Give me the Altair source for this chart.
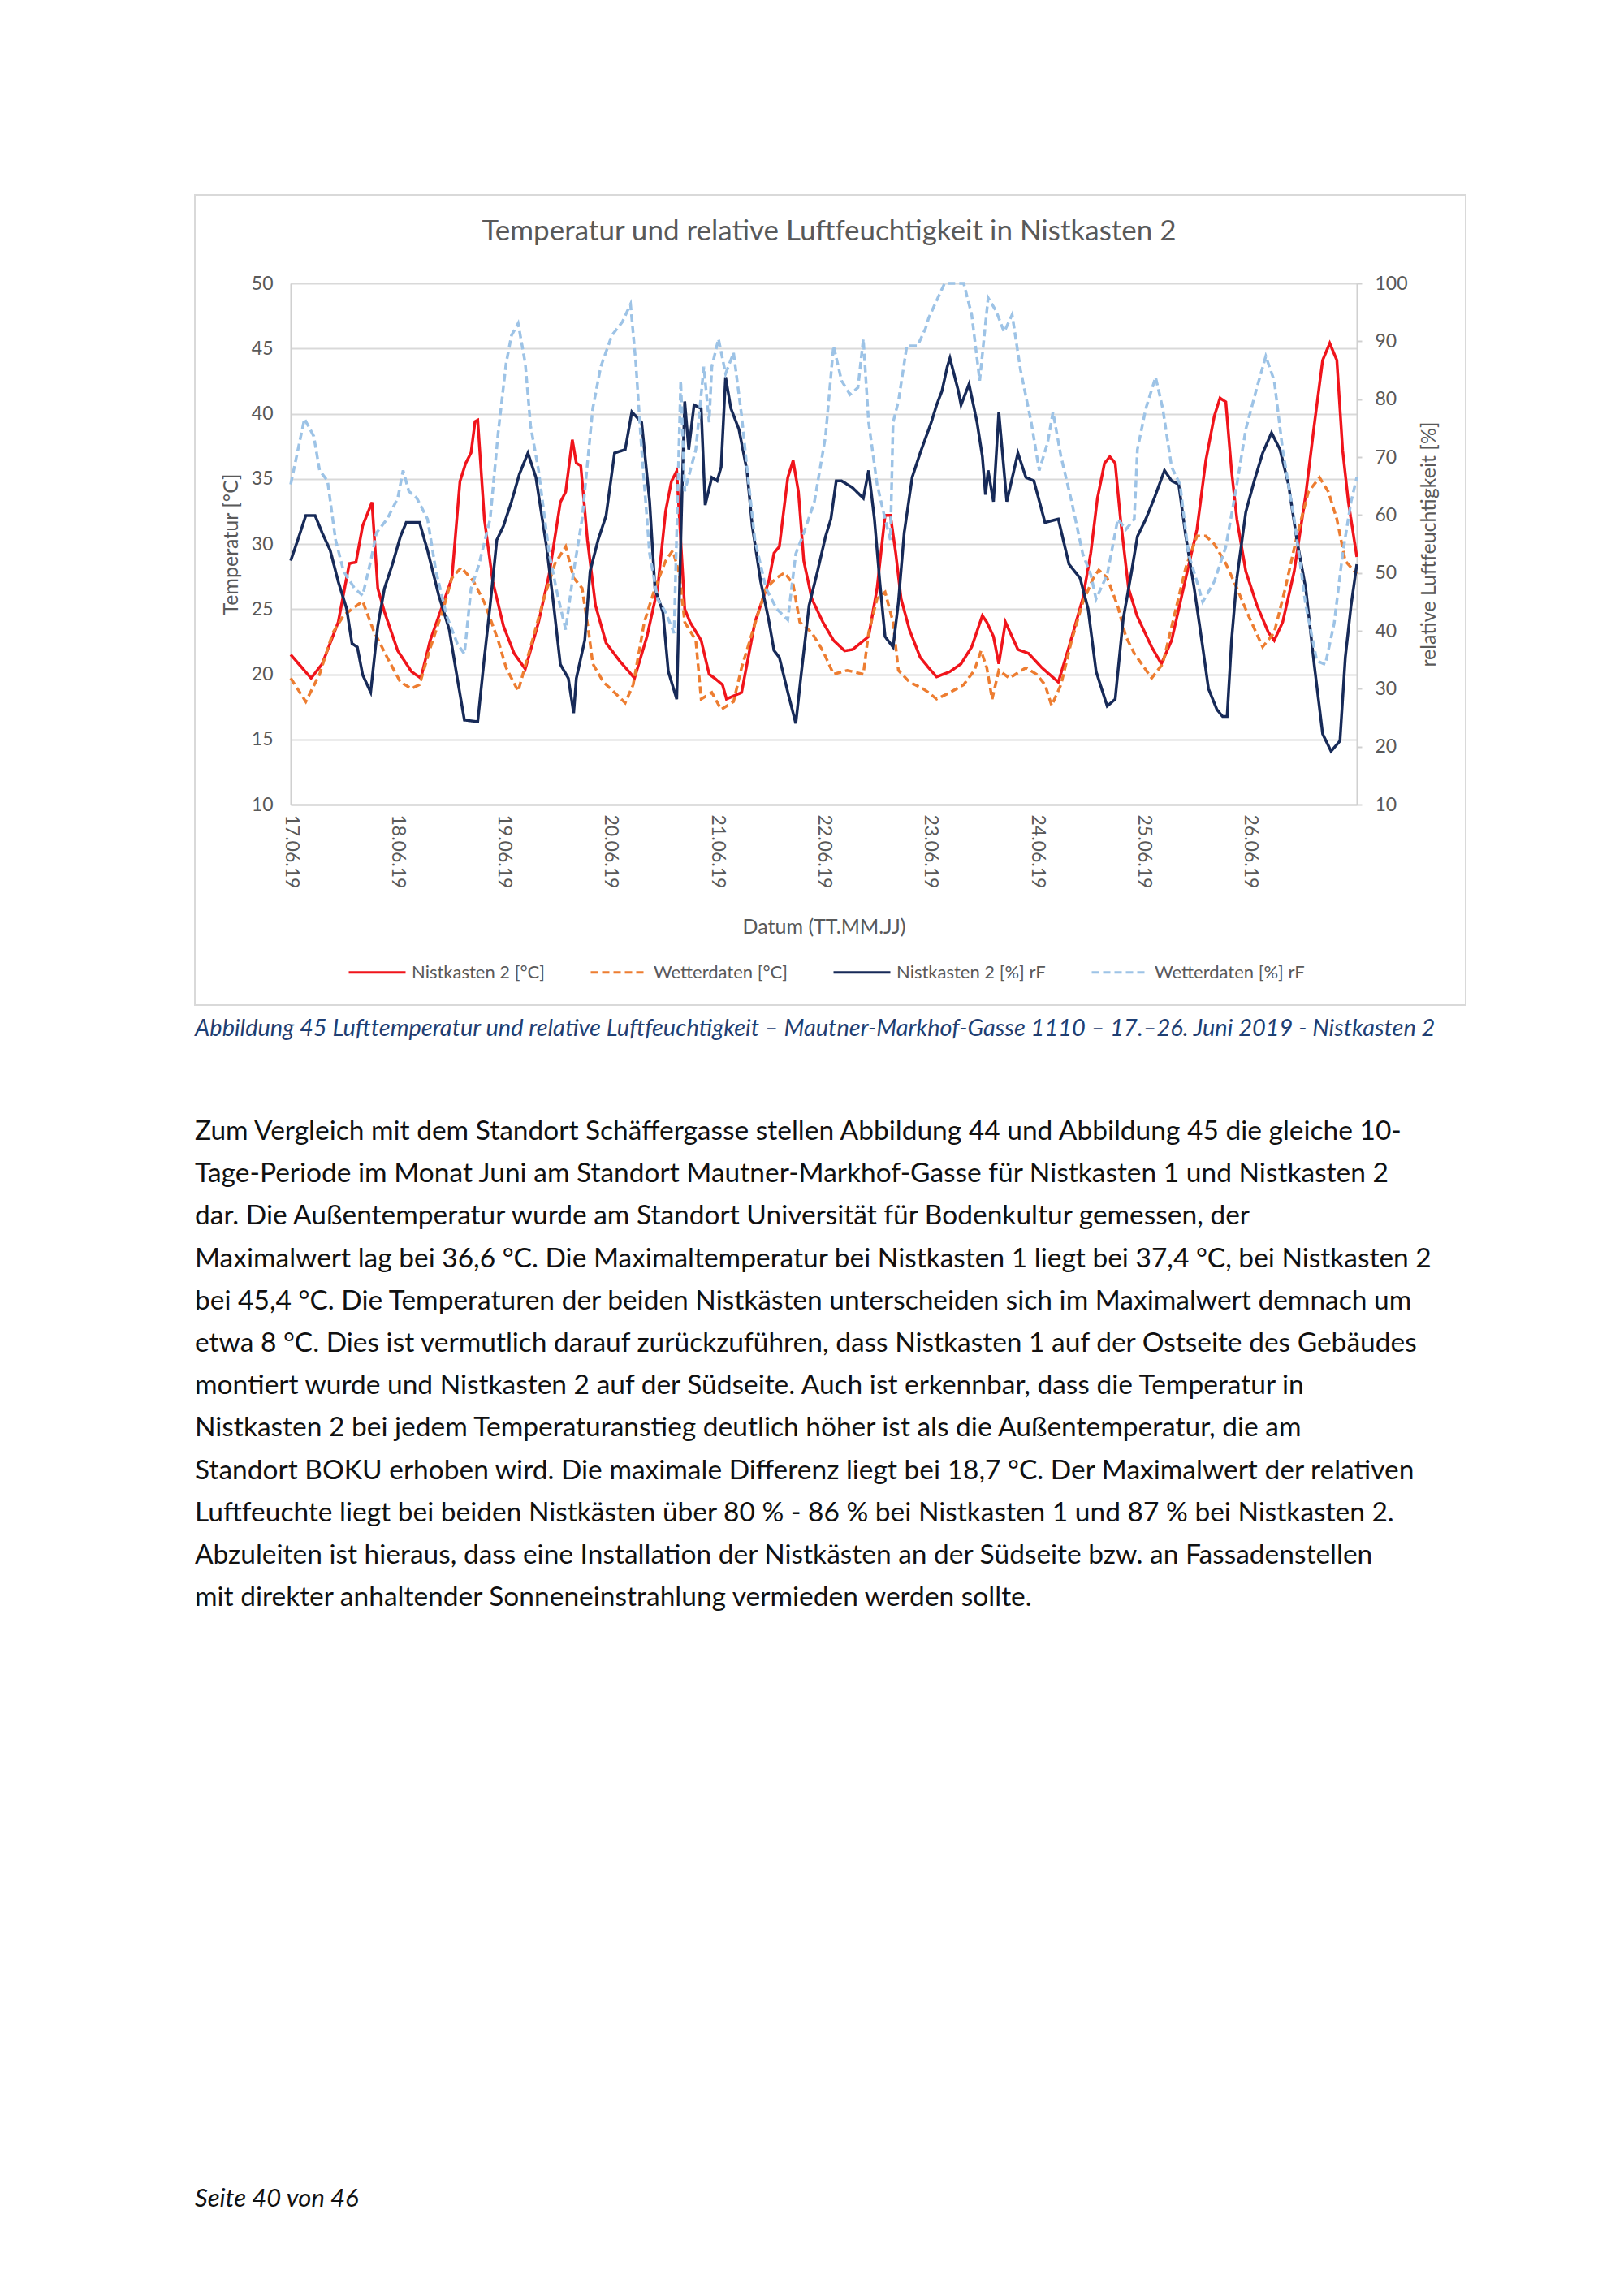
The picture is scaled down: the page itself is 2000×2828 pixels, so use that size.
import altair as alt
import pandas as pd

# ---------------- data ----------------
# hours since 17.06.2019 00:00
red_h = [0, 4.6, 7.1, 10.7, 13.2, 14.7, 16.2, 18.3, 19.6, 21.1, 24.1, 27.2, 29.3, 31.4, 33.9, 36.3, 38.1, 39.4, 40.6, 41.5,
         42.1, 43.6, 45.5, 47.9, 50.3, 52.8, 55.8, 58.2, 60.7, 61.9, 63.4, 64.3, 65.3, 66.8, 68.6, 71.0, 74.1, 77.4, 80.2,
         82.6, 84.4, 85.7, 86.9, 88.7, 89.9, 92.4, 94.2, 95.4, 97.2, 98.1, 101.5, 104.5, 107.6, 108.8, 110.0, 111.9, 113.1,
         114.3, 115.5, 117.3, 119.8, 122.2, 124.7, 126.5, 130.1, 132.0, 133.8, 135.0, 136.2, 137.4, 139.3, 141.7, 143.6,
         145.4, 148.4, 150.9, 153.3, 155.7, 156.7, 158.2, 159.4, 160.9, 163.7, 166.1, 169.1, 172.8, 175.2, 178.3, 180.1,
         181.6, 183.2, 184.4, 185.6, 186.8, 188.6, 190.5, 193.8, 196.0, 198.3, 201.5, 204.0, 206.0, 207.9, 209.2, 210.5,
         211.8, 213.0, 215.0, 217.5, 220.1, 221.4, 223.3, 225.9, 228.5, 230.4, 232.3, 233.9, 235.5, 236.8, 238.1, 240]
red_v = [21.5, 19.7, 20.8, 24.0, 28.5, 28.6, 31.4, 33.2, 26.6, 24.8, 21.8, 20.2, 19.7, 22.6, 25.0, 27.4, 34.8, 36.2, 37.0, 39.4,
         39.5, 31.9, 27.1, 23.7, 21.6, 20.4, 24.0, 27.7, 33.2, 34.0, 38.0, 36.2, 36.0, 30.3, 25.3, 22.4, 21.0, 19.7, 22.9,
         26.6, 32.5, 34.8, 35.6, 25.0, 24.0, 22.6, 20.0, 19.7, 19.2, 18.1, 18.6, 24.0, 27.1, 29.3, 29.8, 35.1, 36.4,
         34.0, 28.7, 25.8, 24.0, 22.6, 21.8, 21.9, 22.9, 26.6, 32.2, 32.2, 29.3, 25.8, 23.4, 21.3, 20.5,
         19.8, 20.2, 20.8, 22.1, 24.5, 24.0, 22.9, 20.8, 24.0, 21.9, 21.6, 20.5, 19.4, 22.1, 25.8, 29.3,
         33.5, 36.2, 36.7, 36.2, 31.9, 26.6, 24.5, 22.1, 20.8, 22.6, 27.4, 31.1, 36.4, 39.8, 41.2, 40.9,
         35.6, 31.9, 27.9, 25.3, 23.2, 22.6, 24.0, 27.9, 33.8, 39.1, 44.1, 45.4, 44.1, 37.2, 33.2, 29.0]

orange_h = [0, 3.4, 6.5, 9.5, 11.9, 13.8, 16.2, 18.6, 21.7, 24.7, 27.2, 29.0, 31.4, 34.5, 36.3, 38.4, 41.2, 43.6, 46.7, 48.5,
            51.2, 54.0, 57.0, 59.5, 61.9, 63.7, 65.6, 67.1, 68.0, 70.4, 72.9, 75.3, 77.1, 79.6, 82.0, 84.4, 86.0, 87.5, 88.7,
            91.2, 92.4, 94.8, 96.9, 99.7, 101.5, 103.9, 107.0, 109.4, 111.2, 113.1, 114.6, 117.3, 119.8, 122.2, 125.3, 128.9,
            130.1, 132.0, 133.8, 135.6, 136.8, 139.3, 142.3, 143.6, 145.4, 148.4, 151.5, 153.9, 155.4, 156.7, 157.9, 159.4,
            161.8, 165.5, 167.9, 169.8, 171.3, 173.4, 175.8, 178.3, 180.7, 181.9, 183.8, 186.2, 188.0, 189.9, 193.8, 196.3,
            198.9, 201.5, 204.0, 206.0, 207.9, 210.5, 213.0, 215.6, 218.8, 221.4, 223.9, 226.5, 229.1, 231.6, 233.6, 235.5,
            237.4, 240]
orange_v = [19.7, 17.9, 20.0, 23.2, 24.5, 25.0, 25.6, 23.4, 21.3, 19.4, 18.9, 19.2, 22.0, 25.2, 27.4, 28.2, 27.1, 25.5, 22.6, 20.5,
            18.7, 22.1, 25.8, 28.5, 29.8, 27.4, 26.6, 23.2, 20.8, 19.4, 18.6, 17.8, 19.2, 24.0, 26.6, 28.7, 29.5, 27.7, 24.0,
            22.6, 18.1, 18.6, 17.3, 17.9, 20.5, 23.2, 26.6, 27.4, 27.8, 26.9, 24.0, 23.2, 21.8, 20.0, 20.3, 20.0,
            23.2, 25.8, 26.3, 24.0, 20.3, 19.4, 18.9, 18.6, 18.1, 18.6, 19.2, 20.3, 21.8, 20.5, 18.1, 20.3,
            19.7, 20.5, 20.0, 19.2, 17.6, 19.2, 22.6, 25.5, 27.4, 28.0, 27.4, 25.2, 22.9, 21.6, 19.7, 20.8,
            24.5, 28.2, 30.6, 30.6, 30.0, 28.5, 26.6, 24.5, 22.1, 23.2, 26.6, 30.6, 34.0, 35.1, 34.0, 31.9,
            28.7, 27.7]

navy_h = [0, 1.6, 3.4, 5.5, 7.1, 8.9, 10.7, 12.6, 13.8, 15.0, 16.2, 18.0, 19.6, 21.1, 22.9, 24.7, 26.0, 29.0, 30.8, 33.3,
          35.7, 37.5, 39.1, 42.1, 43.6, 44.9, 46.4, 47.9, 49.7, 51.5, 53.4, 55.2, 57.6, 59.2, 60.7, 62.5, 63.7, 64.3, 66.2,
          67.4, 69.2, 71.0, 72.9, 75.3, 76.8, 79.0, 80.8, 82.0, 83.8, 85.0, 86.9, 88.1, 88.7, 89.6, 90.8, 92.4, 93.3, 94.8,
          96.0, 96.9, 97.9, 99.1, 100.9, 102.7, 103.9, 105.8, 107.6, 108.8, 110.0, 111.9, 113.7, 114.9, 116.7, 118.6, 120.4,
          121.6, 122.8, 124.0, 126.5, 128.9, 130.1, 131.4, 132.6, 133.8, 135.6, 136.8, 138.1, 139.9, 141.7, 144.2, 145.4,
          146.6, 147.8, 148.4, 150.3, 150.9, 152.7, 154.5, 155.7, 156.4, 157.0, 158.2, 159.4, 161.2, 163.7, 165.5, 167.3,
          169.8, 172.8, 175.2, 177.7, 179.5, 181.3, 183.8, 185.6, 187.4, 189.3, 190.6, 192.5, 194.4, 196.7, 198.3, 199.9,
          201.5, 203.4, 205.3, 206.6, 208.5, 209.8, 210.8, 211.8, 213.0, 215.0, 216.9, 218.8, 220.8, 222.7, 224.6, 226.5,
          228.5, 230.4, 232.3, 234.2, 236.2, 237.4, 238.7, 240]
navy_v = [52.1, 55.7, 59.9, 59.9, 56.9, 53.9, 48.5, 43.8, 37.8, 37.2, 32.4, 29.4, 40.8, 47.3, 51.5, 56.3, 58.7, 58.7, 53.9, 46.2,
          40.2, 31.8, 24.6, 24.3, 35.4, 44.4, 55.7, 58.1, 62.3, 67.1, 70.7, 66.5, 54.5, 44.4, 34.2, 31.8, 25.8, 31.8, 38.4,
          50.3, 55.7, 59.9, 70.7, 71.3, 77.8, 76.0, 62.3, 47.3, 43.2, 33.0, 28.2, 64.1, 79.6, 71.3, 79.0, 78.4, 61.7, 66.5,
          65.9, 68.3, 83.8, 78.4, 74.8, 67.7, 58.1, 48.5, 41.9, 36.6, 35.4, 29.4, 24.0, 32.4, 44.4, 50.3, 56.3,
          59.3, 65.9, 65.9, 64.7, 62.9, 67.7, 59.3, 48.5, 39.0, 37.2, 44.9, 56.9, 66.5, 70.7, 76.0, 79.0,
          81.4, 85.6, 87.1, 81.4, 79.0, 82.6, 76.0, 70.1, 63.5, 67.7, 62.3, 77.8, 62.3, 70.7, 66.5, 65.9,
          58.7, 59.3, 51.5, 49.1, 43.8, 33.0, 27.0, 28.2, 42.0, 50.3, 56.3, 59.3, 62.9, 67.7, 65.9, 65.3,
          56.3, 47.3, 37.2, 30.0, 26.4, 25.2, 25.2, 38.4, 49.1, 60.5, 65.9, 70.7, 74.2, 71.3, 65.3, 55.7,
          47.3, 34.2, 22.2, 19.2, 21.0, 35.4, 44.4, 51.5]

lblue_h = [0, 3.1, 5.2, 6.5, 8.3, 10.1, 11.9, 14.4, 16.2, 18.0, 19.3, 21.7, 24.1, 25.3, 26.6, 28.4, 30.8, 32.7, 35.1, 37.5,
           39.1, 40.6, 42.4, 44.9, 46.7, 48.5, 49.7, 51.2, 52.8, 54.0, 55.8, 58.2, 60.1, 61.9, 63.7, 65.6, 67.1, 68.0, 69.8,
           72.3, 74.7, 76.5, 77.7, 79.0, 80.8, 82.6, 84.4, 86.3, 87.8, 88.7, 91.2, 93.0, 94.2, 94.8, 96.3, 97.9, 99.7, 101.5,
           102.7, 104.5, 107.0, 109.4, 111.9, 113.7, 115.5, 117.9, 120.4, 122.2, 124.0, 125.9, 127.7, 128.9, 130.1, 132.0,
           133.8, 135.0, 135.6, 136.8, 138.7, 141.1, 142.9, 143.6, 147.2, 151.5, 153.3, 155.1, 157.0, 158.8, 160.6, 162.4,
           164.3, 166.7, 168.5, 170.4, 171.6, 173.4, 175.8, 178.3, 180.1, 181.3, 183.8, 186.2, 188.0, 189.9, 190.6, 192.5,
           194.7, 196.3, 198.3, 200.2, 202.1, 204.0, 205.3, 207.9, 210.5, 213.0, 215.0, 217.5, 219.5, 221.4, 223.3, 225.9,
           228.5, 231.0, 232.9, 234.9, 236.8, 238.7, 240]
lblue_v = [65.3, 76.6, 73.6, 67.7, 65.9, 55.7, 50.3, 47.3, 46.1, 52.0, 56.9, 59.3, 62.9, 67.7, 64.1, 62.9, 59.3, 50.3, 42.6, 37.8,
           36.0, 47.3, 51.5, 59.3, 74.2, 86.2, 91.0, 93.1, 86.2, 75.4, 67.7, 53.3, 46.1, 40.2, 50.3, 59.3, 71.3, 78.4, 85.6,
           91.0, 93.4, 96.4, 86.2, 71.3, 53.3, 45.5, 43.2, 39.6, 83.2, 64.1, 71.3, 85.6, 76.0, 85.6, 90.4, 84.4, 88.0, 77.2,
           68.3, 55.7, 47.3, 43.8, 41.9, 53.3, 56.9, 62.3, 73.6, 89.2, 83.2, 80.8, 82.0, 90.4, 76.0, 65.3,
           59.3, 55.7, 76.0, 79.6, 89.2, 89.2, 92.2, 94.0, 100, 100, 94.6, 83.2, 97.5, 95.2, 91.6, 94.6,
           85.0, 76.0, 67.7, 72.5, 77.8, 70.1, 62.3, 53.3, 49.7, 45.5, 49.7, 59.3, 57.5, 59.3, 71.3, 78.4,
           83.8, 78.4, 68.3, 65.3, 53.3, 48.5, 45.0, 48.5, 54.5, 65.3, 74.8, 82.0, 87.4, 83.2, 71.3, 59.3,
           44.4, 34.8, 34.2, 41.3, 53.3, 62.3, 66.5]

series_names = ["Nistkasten 2 [°C]", "Wetterdaten [°C]", "Nistkasten 2 [%] rF", "Wetterdaten [%] rF"]
series_colors = ["#F0141B", "#ED7D31", "#172A58", "#9DC3E6"]
series_dashes = [[1, 0], [9, 5], [1, 0], [9, 5]]
tick_days = list(range(17, 27))

chart_title = "Temperatur und relative Luftfeuchtigkeit in Nistkasten 2"
caption = ("Abbildung 45 Lufttemperatur und relative Luftfeuchtigkeit \u2013 Mautner-Markhof-Gasse 1110 \u2013 "
           "17.\u201326. Juni 2019 - Nistkasten 2")
paragraph = [
    "Zum Vergleich mit dem Standort Schäffergasse stellen Abbildung 44 und Abbildung 45 die gleiche 10-",
    "Tage-Periode im Monat Juni am Standort Mautner-Markhof-Gasse für Nistkasten 1 und Nistkasten 2",
    "dar. Die Außentemperatur wurde am Standort Universität für Bodenkultur gemessen, der",
    "Maximalwert lag bei 36,6 °C. Die Maximaltemperatur bei Nistkasten 1 liegt bei 37,4 °C, bei Nistkasten 2",
    "bei 45,4 °C. Die Temperaturen der beiden Nistkästen unterscheiden sich im Maximalwert demnach um",
    "etwa 8 °C. Dies ist vermutlich darauf zurückzuführen, dass Nistkasten 1 auf der Ostseite des Gebäudes",
    "montiert wurde und Nistkasten 2 auf der Südseite. Auch ist erkennbar, dass die Temperatur in",
    "Nistkasten 2 bei jedem Temperaturanstieg deutlich höher ist als die Außentemperatur, die am",
    "Standort BOKU erhoben wird. Die maximale Differenz liegt bei 18,7 °C. Der Maximalwert der relativen",
    "Luftfeuchte liegt bei beiden Nistkästen über 80 % - 86 % bei Nistkasten 1 und 87 % bei Nistkasten 2.",
    "Abzuleiten ist hieraus, dass eine Installation der Nistkästen an der Südseite bzw. an Fassadenstellen",
    "mit direkter anhaltender Sonneneinstrahlung vermieden werden sollte.",
]
footer = "Seite 40 von 46"

# ---------------- build tables ----------------
START = pd.Timestamp("2019-06-17 00:00:00")


def frame(hours, values, name):
    t = [(START + pd.Timedelta(hours=h)).strftime("%Y-%m-%dT%H:%M:%S") for h in hours]
    return pd.DataFrame({"t": t, "value": values, "series": name})


temp_df = pd.concat([frame(red_h, red_v, series_names[0]), frame(orange_h, orange_v, series_names[1])])
hum_df = pd.concat([frame(navy_h, navy_v, series_names[2]), frame(lblue_h, lblue_v, series_names[3])])

FONT = "Lato"
GREY = "#595959"
W, H = 1313, 642

legend = alt.Legend(title=None, orient="none", legendX=70, legendY=812, direction="horizontal", columns=4,
                    symbolType="stroke", symbolSize=4900, symbolStrokeWidth=3, labelFontSize=22, labelLimit=0,
                    labelColor=GREY, labelFont=FONT, columnPadding=50, labelOffset=6)
color = alt.Color("series:N", scale=alt.Scale(domain=series_names, range=series_colors), legend=legend)
dash = alt.StrokeDash("series:N", scale=alt.Scale(domain=series_names, range=series_dashes), legend=legend)

x_enc = alt.X(
    "t:T", title="Datum (TT.MM.JJ)",
    scale=alt.Scale(domain=[alt.DateTime(year=2019, month=6, date=17), alt.DateTime(year=2019, month=6, date=27)]),
    axis=alt.Axis(values=[alt.DateTime(year=2019, month=6, date=d) for d in tick_days], format="%d.%m.%y",
                  labelAngle=90, ticks=False, grid=False, domainColor="#D0D0D0", domainWidth=2,
                  labelPadding=12, titlePadding=36, labelFontSize=23, titleFontSize=25, labelColor=GREY,
                  titleColor=GREY, titleFontWeight="normal", labelFont=FONT, titleFont=FONT),
)

temp = alt.Chart(temp_df).mark_line(strokeWidth=3.5).encode(
    x=x_enc,
    y=alt.Y("value:Q", title="Temperatur [°C]", scale=alt.Scale(domain=[10, 50], nice=False, zero=False),
            axis=alt.Axis(orient="left", values=list(range(10, 51, 5)), grid=True, gridColor="#D9D9D9",
                          gridWidth=2, ticks=False, domainColor="#D0D0D0", domainWidth=2, labelPadding=22,
                          titlePadding=12, labelFontSize=23, titleFontSize=25, labelColor=GREY, titleColor=GREY,
                          titleFontWeight="normal", labelFont=FONT, titleFont=FONT)),
    color=color, strokeDash=dash,
)

hum = alt.Chart(hum_df).mark_line(strokeWidth=3.5).encode(
    x=x_enc,
    y=alt.Y("value:Q", title="relative Luftfeuchtigkeit [%]",
            scale=alt.Scale(domain=[10, 100], nice=False, zero=False),
            axis=alt.Axis(orient="right", values=list(range(10, 101, 10)), grid=False, ticks=True, tickSize=6,
                          tickColor="#D0D0D0", tickWidth=2, domainColor="#D0D0D0", domainWidth=2,
                          labelPadding=16, titlePadding=14, titleAngle=270, titleBaseline="top",
                          labelFontSize=23, titleFontSize=25, labelColor=GREY, titleColor=GREY,
                          titleFontWeight="normal", labelFont=FONT, titleFont=FONT)),
    color=color, strokeDash=dash,
)

one = pd.DataFrame({"k": [0]})
frame_rect = alt.Chart(one).mark_rect(fillOpacity=0, stroke="#D9D9D9", strokeWidth=2).encode(
    x=alt.value(-118), x2=alt.value(1447), y=alt.value(-109), y2=alt.value(889))

title_mark = alt.Chart(pd.DataFrame({"text": [chart_title]})).mark_text(
    align="center", baseline="middle", font=FONT, fontSize=35, color=GREY).encode(
    x=alt.value(663), y=alt.value(-64), text="text:N")

caption_mark = alt.Chart(pd.DataFrame({"text": [caption]})).mark_text(
    align="left", baseline="middle", font=FONT, fontSize=29, fontStyle="italic", color="#1F3F73").encode(
    x=alt.value(-118), y=alt.value(918), text="text:N")

para_marks = [
    alt.Chart(pd.DataFrame({"text": [line]})).mark_text(
        align="left", baseline="middle", font=FONT, fontSize=33.5, color="#111111").encode(
        x=alt.value(-118), y=alt.value(1045 + i * 52.2), text="text:N")
    for i, line in enumerate(paragraph)
]

footer_mark = alt.Chart(pd.DataFrame({"text": [footer]})).mark_text(
    align="left", baseline="middle", font=FONT, fontSize=31, fontStyle="italic", color="#111111").encode(
    x=alt.value(-118), y=alt.value(2360), text="text:N")

chart = alt.layer(frame_rect, temp, hum, title_mark, caption_mark, *para_marks, footer_mark).resolve_scale(
    y="independent"
).properties(
    width=W, height=H,
    autosize=alt.AutoSizeParams(type="none"),
    padding={"left": 350, "top": 341, "right": 307, "bottom": 1807},
    background="white",
).configure_view(strokeWidth=0).configure(font=FONT)

chart.save("out.html", embed_options={"renderer": "svg", "actions": False})
